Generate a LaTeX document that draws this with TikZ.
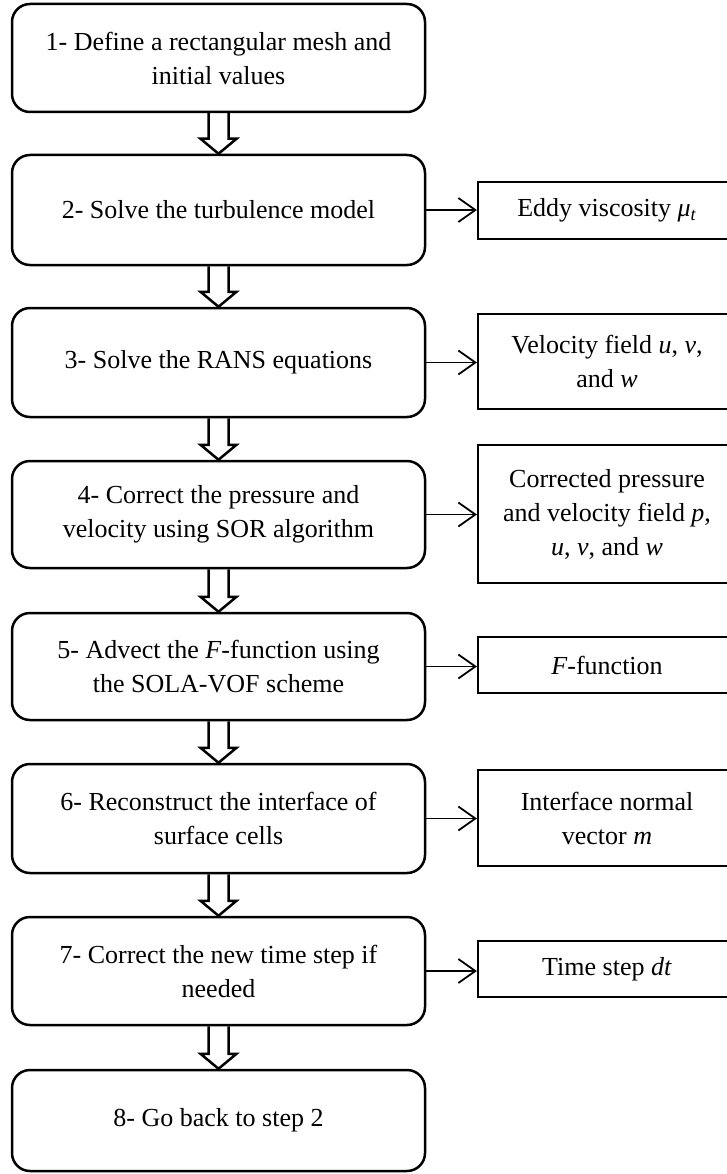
\documentclass[tikz,border=0pt]{standalone}
\usepackage{fontspec}
\setmainfont{Liberation Serif}
\usetikzlibrary{arrows.meta,calc}
\tikzset{
  stepbox/.style={draw, line width=2.5pt, rounded corners=18pt, minimum width=413pt, align=center, inner sep=0pt, font=\fontsize{26}{34}\selectfont},
  outbox/.style={draw, line width=2.2pt, minimum width=258pt, align=center, inner sep=0pt, font=\fontsize{26}{34}\selectfont},
  dblarrow/.style={line width=2.5pt, line join=miter},
  sidearrow/.style={line width=1.8pt, -{Straight Barb[length=17pt,width=24pt,line width=1.8pt]}},
}
\newcommand\flowarrow[2]{\draw[dblarrow] ($(#1.south)+(-10,0)$) -- ($(#2.north)+(-10,-15)$) -- ($(#2.north)+(-18,-15)$) -- (#2.north) -- ($(#2.north)+(18,-15)$) -- ($(#2.north)+(10,-15)$) -- ($(#1.south)+(10,0)$);}
\begin{document}
\begin{tikzpicture}[x=1pt,y=-1pt]
\useasboundingbox (0,0) rectangle (727,1174);
\clip (0,0) rectangle (727,1174);
% left column
\node[stepbox, minimum height=108pt] (b1) at (218.5,58) {1- Define a rectangular mesh and\\initial values};
\node[stepbox, minimum height=110pt] (b2) at (218.5,210) {2- Solve the turbulence model};
\node[stepbox, minimum height=109pt] (b3) at (218.5,362.5) {3- Solve the RANS equations};
\node[stepbox, minimum height=107pt] (b4) at (218.5,514.5) {4- Correct the pressure and\\velocity using SOR algorithm};
\node[stepbox, minimum height=107pt] (b5) at (218.5,666.5) {5- Advect the \textit{F}-function using\\the SOLA-VOF scheme};
\node[stepbox, minimum height=109pt] (b6) at (218.5,818.5) {6- Reconstruct the interface of\\surface cells};
\node[stepbox, minimum height=108pt] (b7) at (218.5,971) {7- Correct the new time step if\\needed};
\node[stepbox, minimum height=101pt] (b8) at (218.5,1120.5) {8- Go back to step 2};
% right column
\node[outbox, minimum height=57pt] (r2) at (607,210.5) {Eddy viscosity \textit{μ}\textsubscript{\textit{t}}};
\node[outbox, minimum height=95pt] (r3) at (607,361.5) {Velocity field \textit{u}, \textit{v},\\and \textit{w}};
\node[outbox, minimum height=138pt] (r4) at (607,514) {Corrected pressure\\and velocity field \textit{p},\\\textit{u}, \textit{v}, and \textit{w}};
\node[outbox, minimum height=56pt] (r5) at (607,665) {\textit{F}-function};
\node[outbox, minimum height=96pt] (r6) at (607,818) {Interface normal\\vector \textit{m}};
\node[outbox, minimum height=56pt] (r7) at (607,969) {Time step \textit{dt}};
% flow arrows
\flowarrow{b1}{b2}
\flowarrow{b2}{b3}
\flowarrow{b3}{b4}
\flowarrow{b4}{b5}
\flowarrow{b5}{b6}
\flowarrow{b6}{b7}
\flowarrow{b7}{b8}
% side arrows
\draw[sidearrow] (b2.east) -- (b2.east -| r2.west);
\draw[sidearrow] (b3.east) -- (b3.east -| r3.west);
\draw[sidearrow] (b4.east) -- (b4.east -| r4.west);
\draw[sidearrow] (b5.east) -- (b5.east -| r5.west);
\draw[sidearrow] (b6.east) -- (b6.east -| r6.west);
\draw[sidearrow] (b7.east) -- (b7.east -| r7.west);
\end{tikzpicture}
\end{document}
